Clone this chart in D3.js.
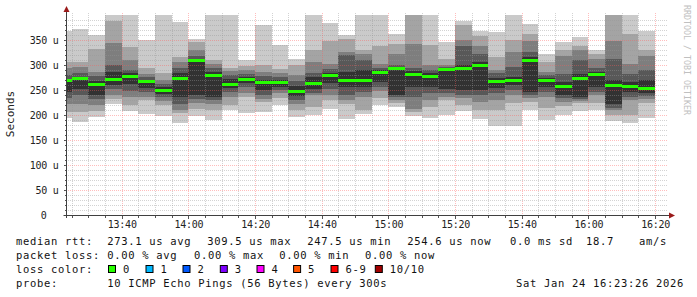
<!DOCTYPE html>
<html>
<head>
<meta charset="utf-8">
<script src="https://cdn.jsdelivr.net/npm/d3@7"></script>
<style>
  html, body { margin: 0; padding: 0; background: #fff; }
  svg { display: block; }
  text { font-family: "DejaVu Sans Mono", monospace; }
</style>
</head>
<body>
<svg id="chart" width="697" height="297"></svg>
<script>
// Smokeping style RTT graph, 10 pings per 5 min step, values in microseconds.
// pingN = N-th fastest ping of the step (values over 400 are clipped at the top)
const ping1  = [194,186,197,222,208,202,199,185,198,190,210,204,207,220,196,200,212,192,202,220,216,198,194,200,209,192,178,178,210,190,200,209,210,189,185,194];
const ping2  = [206,206,208,232,220,230,220,204,212,210,220,236,226,234,210,216,230,222,210,234,224,206,217,230,220,210,210,224,227,214,218,225,224,200,200,224];
const ping3  = [222,222,220,240,236,236,228,210,224,222,236,244,232,244,222,240,240,230,236,248,230,212,230,236,234,226,230,240,234,236,226,228,240,210,230,232];
const ping4  = [234,240,232,252,248,246,236,222,232,230,246,256,240,250,230,244,252,240,246,256,236,236,244,244,240,240,244,250,240,246,234,232,246,214,236,238];
const ping5  = [246,252,240,260,262,254,242,236,240,236,254,264,250,256,238,252,264,256,256,267,240,256,257,253,250,250,255,260,247,256,240,237,256,222,247,244];
const ping6  = [270,276,268,287,284,270,256,284,312,286,272,276,270,270,258,276,284,286,290,290,296,288,284,294,300,306,274,276,316,274,266,282,286,270,266,270];
const ping7  = [280,284,278,300,290,276,262,294,318,294,280,282,278,276,268,284,292,320,311,294,300,294,290,296,338,323,284,297,327,280,283,311,294,313,283,290];
const ping8  = [294,296,286,345,310,282,270,306,330,302,289,290,287,284,280,307,303,327,322,303,323,343,300,300,351,338,290,327,349,287,318,331,313,349,303,318];
const ping9  = [306,306,332,388,337,294,284,317,346,310,294,298,300,293,300,330,349,353,331,338,343,420,340,313,380,358,317,351,363,307,330,338,323,420,363,330];
const ping10 = [369,372,360,420,420,350,420,386,352,420,420,311,380,340,313,420,385,360,420,420,363,420,420,347,389,369,367,420,382,323,347,357,331,420,420,369];
const median = [270,274,262,272,277,267,250,274,310,280,262,272,266,265,248,264,280,270,270,285,293,282,278,291,293,299,267,269,310,270,257,273,282,260,258,254];

const yTicks = [0, 50, 100, 150, 200, 250, 300, 350];

const lossLabels = ["0", "1", "2", "3", "4", "5", "6-9", "10/10"];
const lossColors = ["#26ff00", "#00b8ff", "#0059ff", "#7e00ff", "#ff00ff", "#ff5500", "#ff0000", "#a10000"];

const statsRtt  = ["273.1 us avg", "309.5 us max", "247.5 us min", "254.6 us now", "0.0 ms sd", "18.7", "am/s"];
const statsLoss = ["0.00 % avg", "0.00 % max", "0.00 % min", "0.00 % now"];
const probeText = "10 ICMP Echo Pings (56 Bytes) every 300s";
const stampText = "Sat Jan 24 16:23:26 2026";

// greys of the smoke, outermost band first
const smokeShades = ["#cacaca", "#a4a4a4", "#7e7e7e", "#585858", "#323232"];

const svg = d3.select("#chart");
const plot = { left: 66.5, right: 668, top: 15, bottom: 215 };

const start = new Date(2026, 0, 24, 13, 23, 26);
const end = new Date(2026, 0, 24, 16, 23, 26);
const step = d3.timeMinute.every(5);
const slots = step.range(new Date(2026, 0, 24, 13, 20), new Date(2026, 0, 24, 16, 20));

const x = d3.scaleTime().domain([start, end]).range([plot.left, plot.left + 600]);
const y = d3.scaleLinear().domain([0, 400]).range([plot.bottom, plot.top]);

svg.append("defs").append("clipPath").attr("id", "plotclip")
  .append("rect")
  .attr("x", plot.left + 0.5).attr("y", plot.top)
  .attr("width", plot.right - plot.left).attr("height", plot.bottom - plot.top);

// smoke
const pings = [ping1, ping2, ping3, ping4, ping5, ping6, ping7, ping8, ping9, ping10];
const smoke = svg.append("g").attr("clip-path", "url(#plotclip)").attr("shape-rendering", "crispEdges");
slots.forEach((t, i) => {
  const x0 = x(t), x1 = x(step.offset(t, 1));
  smokeShades.forEach((shade, b) => {
    const lo = pings[b][i], hi = pings[9 - b][i];
    smoke.append("rect")
      .attr("x", x0).attr("width", x1 - x0)
      .attr("y", y(hi)).attr("height", y(lo) - y(hi))
      .attr("fill", shade);
  });
});

// grid (drawn over the smoke, semi transparent)
const minorCol = "rgba(150,150,150,0.42)";
const majorCol = "rgba(255,90,90,0.4)";
const grid = svg.append("g").attr("shape-rendering", "crispEdges");
const minorY = d3.range(10, 400, 10).filter(v => v % 50 !== 0);
grid.selectAll(".hminor").data(minorY).join("line")
  .attr("x1", plot.left + 1).attr("x2", plot.right)
  .attr("y1", d => Math.round(y(d)) + 0.5).attr("y2", d => Math.round(y(d)) + 0.5)
  .attr("stroke", minorCol).attr("stroke-dasharray", "1,1");
grid.selectAll(".hmajor").data(yTicks.filter(v => v > 0)).join("line")
  .attr("x1", plot.left + 1).attr("x2", plot.right)
  .attr("y1", d => Math.round(y(d)) + 0.5).attr("y2", d => Math.round(y(d)) + 0.5)
  .attr("stroke", majorCol).attr("stroke-dasharray", "1,1");

const minorX = step.range(start, end).filter(t => t.getMinutes() % 20 !== 0);
const majorX = d3.timeMinute.every(20).range(start, end);
grid.selectAll(".vminor").data(minorX).join("line")
  .attr("x1", d => Math.round(x(d)) + 0.5).attr("x2", d => Math.round(x(d)) + 0.5)
  .attr("y1", plot.top - 2).attr("y2", plot.bottom)
  .attr("stroke", minorCol).attr("stroke-dasharray", "1,1");
grid.selectAll(".vmajor").data(majorX).join("line")
  .attr("x1", d => Math.round(x(d)) + 0.5).attr("x2", d => Math.round(x(d)) + 0.5)
  .attr("y1", plot.top - 2).attr("y2", plot.bottom)
  .attr("stroke", majorCol).attr("stroke-dasharray", "1,1");

// small ticks outside the axes
const ticks = svg.append("g").attr("shape-rendering", "crispEdges").attr("stroke", "#555");
ticks.selectAll(".xt").data(minorX.concat(majorX)).join("line")
  .attr("x1", d => Math.round(x(d)) + 0.5).attr("x2", d => Math.round(x(d)) + 0.5)
  .attr("y1", plot.bottom + 1).attr("y2", d => plot.bottom + (d.getMinutes() % 20 ? 3 : 4));
ticks.selectAll(".yt").data(d3.range(10, 400, 10)).join("line")
  .attr("x1", d => plot.left - (d % 50 ? 2 : 3)).attr("x2", plot.left)
  .attr("y1", d => Math.round(y(d)) + 0.5).attr("y2", d => Math.round(y(d)) + 0.5);

// median, coloured by loss (all 0 loss here)
svg.append("g").attr("shape-rendering", "crispEdges").attr("clip-path", "url(#plotclip)")
  .selectAll("rect").data(slots).join("rect")
  .attr("x", d => x(d))
  .attr("width", d => x(step.offset(d, 1)) - x(d))
  .attr("y", (d, i) => y(median[i]) - 1.5)
  .attr("height", 3)
  .attr("fill", lossColors[0]);

// axes lines + arrows
svg.append("line")
  .attr("x1", plot.left - 3).attr("x2", plot.right + 2)
  .attr("y1", plot.bottom + 0.5).attr("y2", plot.bottom + 0.5)
  .attr("stroke", "#404040");
svg.append("line")
  .attr("x1", plot.left).attr("x2", plot.left)
  .attr("y1", plot.bottom + 3).attr("y2", 10)
  .attr("stroke", "#404040");
svg.append("path")
  .attr("d", `M${plot.left - 3},12 L${plot.left + 3},12 L${plot.left},6 Z`)
  .attr("fill", "#9a1a1a");
svg.append("path")
  .attr("d", `M${plot.right + 1},${plot.bottom - 2.5} L${plot.right + 1},${plot.bottom + 3.5} L${plot.right + 7},${plot.bottom + 0.5} Z`)
  .attr("fill", "#9a1a1a");

// tick labels
const xAxis = svg.append("g")
  .attr("transform", `translate(0,${plot.bottom})`)
  .call(d3.axisBottom(x).ticks(d3.timeMinute.every(20)).tickSize(0).tickPadding(6)
    .tickFormat(d3.timeFormat("%H:%M")));
const yAxis = svg.append("g")
  .attr("transform", `translate(${plot.left},0)`)
  .call(d3.axisLeft(y).tickValues(yTicks).tickSize(0).tickPadding(8)
    .tickFormat(v => v === 0 ? "0" : `${v} u`));
[xAxis, yAxis].forEach(a => {
  a.select(".domain").remove();
  a.selectAll("text")
    .attr("font-family", '"DejaVu Sans Mono", monospace')
    .attr("font-size", 10)
    .attr("letter-spacing", -0.25)
    .attr("fill", "#222");
});
yAxis.selectAll("text").filter(d => d === 0).attr("dx", -12);

svg.append("text")
  .attr("transform", "translate(14,114) rotate(-90)")
  .attr("text-anchor", "middle")
  .attr("font-size", 11)
  .attr("fill", "#222")
  .text("Seconds");

svg.append("text")
  .attr("transform", "translate(684,5) rotate(90)")
  .attr("font-size", 8.3)
  .attr("fill", "#c0c0c0")
  .text("RRDTOOL / TOBI OETIKER");

// legend
const legend = svg.append("g")
  .attr("font-size", 10.5)
  .attr("letter-spacing", 0.68)
  .attr("fill", "#111");
const rows = [244.5, 258.5, 272.5, 286.5];
const rttX = [107.3, 207.3, 307.3, 407.3, 510, 586, 639];
const lossX = [107.3, 194, 279.3, 365];
const boxX = [108.5, 146, 183, 220.3, 257, 293.6, 331, 375.3];

legend.append("text").attr("x", 16).attr("y", rows[0]).text("median rtt:");
statsRtt.forEach((s, i) => legend.append("text").attr("x", rttX[i]).attr("y", rows[0]).text(s));

legend.append("text").attr("x", 16).attr("y", rows[1]).text("packet loss:");
statsLoss.forEach((s, i) => legend.append("text").attr("x", lossX[i]).attr("y", rows[1]).text(s));

legend.append("text").attr("x", 16).attr("y", rows[2]).text("loss color:");
lossLabels.forEach((l, i) => {
  legend.append("rect")
    .attr("x", boxX[i]).attr("y", rows[2] - 7)
    .attr("width", 7).attr("height", 7)
    .attr("fill", lossColors[i])
    .attr("stroke", "#000").attr("stroke-width", 1);
  legend.append("text").attr("x", boxX[i] + 14.5).attr("y", rows[2]).text(l);
});

legend.append("text").attr("x", 16).attr("y", rows[3]).text("probe:");
legend.append("text").attr("x", 107.3).attr("y", rows[3]).text(probeText);
legend.append("text").attr("x", 684).attr("y", rows[3]).attr("text-anchor", "end").text(stampText);
</script>
</body>
</html>
